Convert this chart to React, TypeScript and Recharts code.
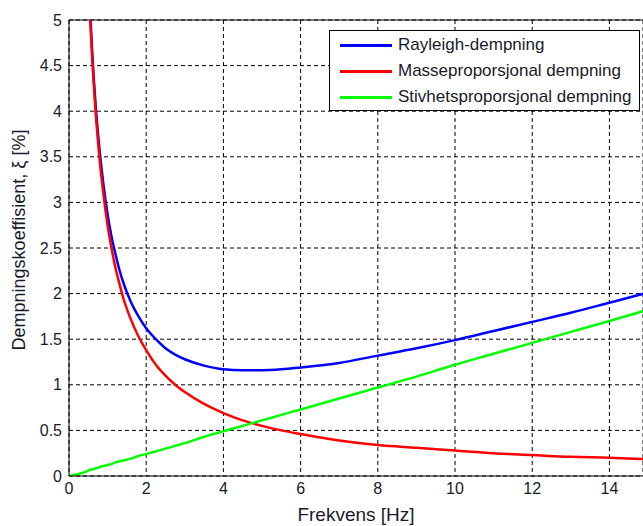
import React from 'react';
import { LineChart, Line, XAxis, YAxis, CartesianGrid, Legend, ReferenceLine } from 'recharts';

// frequency [Hz] and damping ratio [%]
const FREQ = [0, 0.5, 0.55, 0.6, 0.65, 0.7, 0.75, 0.8, 0.9, 1.0, 1.1, 1.2, 1.3, 1.4, 1.6, 1.8, 2.0, 2.25, 2.5, 2.75, 3.0, 3.5, 4.0, 4.5, 5.0, 5.5, 6.0, 7.0, 8.0, 9.0, 10.0, 11.0, 12.0, 13.0, 14.0, 14.9];
const RAYLEIGH = [null, 5.56, 5.07, 4.66, 4.31, 4.01, 3.76, 3.54, 3.17, 2.87, 2.63, 2.44, 2.27, 2.13, 1.91, 1.75, 1.62, 1.50, 1.40, 1.33, 1.28, 1.21, 1.17, 1.16, 1.16, 1.17, 1.19, 1.24, 1.32, 1.40, 1.49, 1.59, 1.69, 1.79, 1.90, 2.0];
const MASS = [null, 5.5, 5.0, 4.58, 4.23, 3.93, 3.67, 3.44, 3.06, 2.75, 2.5, 2.29, 2.12, 1.96, 1.72, 1.53, 1.38, 1.22, 1.1, 1.0, 0.92, 0.79, 0.69, 0.61, 0.55, 0.5, 0.46, 0.39, 0.34, 0.31, 0.28, 0.25, 0.23, 0.21, 0.2, 0.185];
const STIFF = [0, 0.06, 0.07, 0.07, 0.08, 0.085, 0.09, 0.1, 0.11, 0.12, 0.13, 0.15, 0.16, 0.17, 0.19, 0.22, 0.24, 0.27, 0.3, 0.33, 0.36, 0.43, 0.49, 0.55, 0.61, 0.67, 0.73, 0.85, 0.97, 1.09, 1.22, 1.34, 1.46, 1.58, 1.7, 1.81];

const X_TICKS = [0, 2, 4, 6, 8, 10, 12, 14];
const Y_TICKS = [0, 0.5, 1, 1.5, 2, 2.5, 3, 3.5, 4, 4.5, 5];

const SERIES = [
  { key: 'rayleigh', name: 'Rayleigh-dempning', color: '#0000ff' },
  { key: 'mass', name: 'Masseproporsjonal dempning', color: '#ff0000' },
  { key: 'stiff', name: 'Stivhetsproporsjonal dempning', color: '#00ff00' },
];

const data = FREQ.map((f, i) => ({
  f,
  rayleigh: RAYLEIGH[i],
  mass: MASS[i],
  stiff: STIFF[i],
}));

const FONT = 'Arial, "Liberation Sans", Helvetica, sans-serif';
const TEXT = '#1a1a2a';

const LegendBox = () => (
  <div
    style={{
      background: '#fff',
      border: '1px solid #000',
      width: 311,
      height: 81,
      boxSizing: 'border-box',
      padding: '1px 0 0 10px',
      fontFamily: FONT,
      fontSize: 17,
      color: TEXT,
      textAlign: 'left',
      whiteSpace: 'nowrap',
    }}
  >
    {SERIES.map((s) => (
      <div key={s.key} style={{ display: 'flex', alignItems: 'center', height: 26 }}>
        <span style={{ display: 'inline-block', width: 52, height: 3, background: s.color, marginRight: 6 }} />
        <span>{s.name}</span>
      </div>
    ))}
  </div>
);

const App: React.FC = () => {
  return (
    <div style={{ position: 'absolute', left: 0, top: 0, width: 643, height: 526, background: '#fff' }}>
      <style>{`body{margin:0;background:#fff}`}</style>
      <LineChart width={643} height={526} data={data} margin={{ top: 20, right: 0, left: 0, bottom: 0 }}>
        <CartesianGrid stroke="#000" strokeDasharray="4 3" strokeWidth={1} />
        <XAxis
          dataKey="f"
          type="number"
          domain={[0, 14.87]}
          ticks={X_TICKS}
          allowDataOverflow
          height={50}
          stroke="#000"
          tickLine={false}
          tickSize={5}
          tickMargin={2}
          tick={{ fill: TEXT, fontSize: 16, fontFamily: FONT }}
          label={{ value: 'Frekvens [Hz]', position: 'insideBottom', offset: 5, fill: TEXT, fontSize: 19, fontFamily: FONT }}
        />
        <YAxis
          type="number"
          domain={[0, 5]}
          ticks={Y_TICKS}
          allowDataOverflow
          width={69}
          stroke="#000"
          tickLine={false}
          tickSize={5}
          tickMargin={2}
          tick={{ fill: TEXT, fontSize: 16, fontFamily: FONT }}
          label={{ value: 'Dempningskoeffisient, ξ [%]', angle: -90, position: 'center', dx: -16, dy: -8, fill: TEXT, fontSize: 18, fontFamily: FONT }}
        />
        <ReferenceLine y={5} stroke="#000" strokeWidth={1} />
        <Legend
          layout="horizontal"
          verticalAlign="middle"
          align="center"
          content={<LegendBox />}
          wrapperStyle={{ top: 30, left: 329, width: 311 }}
        />
        {SERIES.map((s) => (
          <Line
            key={s.key}
            type="monotone"
            dataKey={s.key}
            name={s.name}
            stroke={s.color}
            strokeWidth={2.5}
            dot={false}
            isAnimationActive={false}
          />
        ))}
      </LineChart>
    </div>
  );
};

export default App;
